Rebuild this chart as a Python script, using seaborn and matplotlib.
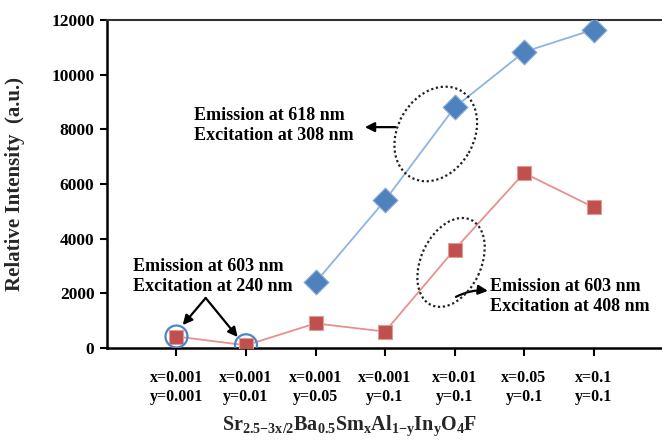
import numpy as np
import pandas as pd
import seaborn as sns
import matplotlib
matplotlib.use("Agg")
import matplotlib.pyplot as plt
from matplotlib.patches import Ellipse
from matplotlib.transforms import ScaledTranslation

# ---- data ----
categories = ["x=0.001\ny=0.001", "x=0.001\ny=0.01", "x=0.001\ny=0.05", "x=0.001\ny=0.1",
              "x=0.01\ny=0.1", "x=0.05\ny=0.1", "x=0.1\ny=0.1"]
positions = [1, 2, 3, 4, 5, 6, 7]
blue_pos = [3, 4, 5, 6, 7]
blue_vals = [2400, 5400, 8800, 10830, 11650]
red_pos = [1, 2, 3, 4, 5, 6, 7]
red_vals = [420, 100, 900, 600, 3600, 6400, 5150]
yticks = [0, 2000, 4000, 6000, 8000, 10000, 12000]

sns.set_theme(style="white")
plt.rcParams['font.family'] = ['Liberation Serif', 'DejaVu Serif']
plt.rcParams['font.weight'] = 'bold'
plt.rcParams['mathtext.fontset'] = 'custom'
plt.rcParams['mathtext.rm'] = 'Liberation Serif:bold'
plt.rcParams['mathtext.it'] = 'Liberation Serif:bold'
plt.rcParams['mathtext.bf'] = 'Liberation Serif:bold'

fig = plt.figure(figsize=(6.62, 4.41), dpi=100)
ax = fig.add_axes([0.1616, 0.2109, 0.84, 0.7438])

blue_df = pd.DataFrame({"pos": blue_pos, "val": blue_vals})
red_df = pd.DataFrame({"pos": red_pos, "val": red_vals})

sns.lineplot(data=blue_df, x="pos", y="val", ax=ax, color="#8DB4E2", lw=1.3)
sns.lineplot(data=red_df, x="pos", y="val", ax=ax, color="#E8908E", lw=1.3)
sns.scatterplot(data=blue_df, x="pos", y="val", ax=ax, marker="D", s=160,
                color="#4F81BD", edgecolor="#8FB0DA", linewidth=0.8, zorder=4)
sns.scatterplot(data=red_df, x="pos", y="val", ax=ax, marker="s", s=105,
                color="#C0504D", edgecolor="#E09A98", linewidth=0.8, zorder=4)

# blue circles round the first two red points
ax.scatter(red_pos[:2], red_vals[:2], s=250, facecolors="none",
           edgecolors="#4A86C8", linewidths=1.6, zorder=5)

ax.set_xlim(0, 8)
ax.set_ylim(0, 12000)
ax.set_xticks(positions)
ax.set_xticklabels(categories, fontsize=11.5, fontweight='bold', linespacing=1.25)
ax.set_yticks(yticks)
ax.set_yticklabels([str(v) for v in yticks], fontsize=12.5, fontweight='bold')
ax.tick_params(axis='x', direction='out', length=6, width=1.5, pad=10, colors='black')
ax.tick_params(axis='y', direction='out', length=5, width=1.5, pad=4, colors='black')
ax.xaxis.set_ticks_position('bottom')
ax.yaxis.set_ticks_position('left')

for s in ['left', 'bottom']:
    ax.spines[s].set_color('black')
    ax.spines[s].set_linewidth(1.8)
ax.spines['top'].set_color('#333333')
ax.spines['top'].set_linewidth(1.5)
ax.spines['right'].set_visible(False)

ax.set_ylabel("Relative Intensity  (a.u.)", fontsize=15, fontweight='bold')
ax.yaxis.set_label_coords(-0.148, 0.5)
ax.set_xlabel(r"$\mathrm{Sr_{2.5{-}3x/2}Ba_{0.5}Sm_xAl_{1{-}y}In_yO_4F}$", fontsize=14.5)
ax.xaxis.set_label_coords(0.437, -0.2)

# annotation texts
kw = dict(fontsize=13, fontweight='bold', color='black', linespacing=1.25, va='center', ha='left')
ax.text(1.25, 8150, "Emission at 618 nm\nExcitation at 308 nm", **kw)
ax.text(0.37, 2620, "Emission at 603 nm\nExcitation at 240 nm", **kw)
ax.text(5.51, 1890, "Emission at 603 nm\nExcitation at 408 nm", **kw)

arrow = dict(arrowstyle="-|>", color="black", lw=1.6, mutation_scale=14, shrinkA=0, shrinkB=0)
ax.annotate("", xy=(3.71, 8080), xytext=(4.15, 8080), arrowprops=arrow)
ax.annotate("", xy=(1.09, 840), xytext=(1.42, 1830), arrowprops=arrow)
ax.annotate("", xy=(1.88, 400), xytext=(1.42, 1830), arrowprops=arrow)
ax.annotate("", xy=(5.48, 2090), xytext=(5.02, 1870),
            arrowprops=dict(arrow, connectionstyle="arc3,rad=-0.15"))

# dotted ellipses (shape in inches, centre in data)
for (cx, cy, w, h, ang) in [(4.73, 7830, 1.00, 0.76, 60), (4.95, 3130, 0.94, 0.60, 65)]:
    tr = fig.dpi_scale_trans + ScaledTranslation(cx, cy, ax.transData)
    e = Ellipse((0, 0), w, h, angle=ang, transform=tr, fill=False,
                linestyle=(0, (1, 1.2)), lw=1.6, edgecolor='#222222', zorder=6)
    ax.add_patch(e)

fig.savefig("out.png", dpi=100)
